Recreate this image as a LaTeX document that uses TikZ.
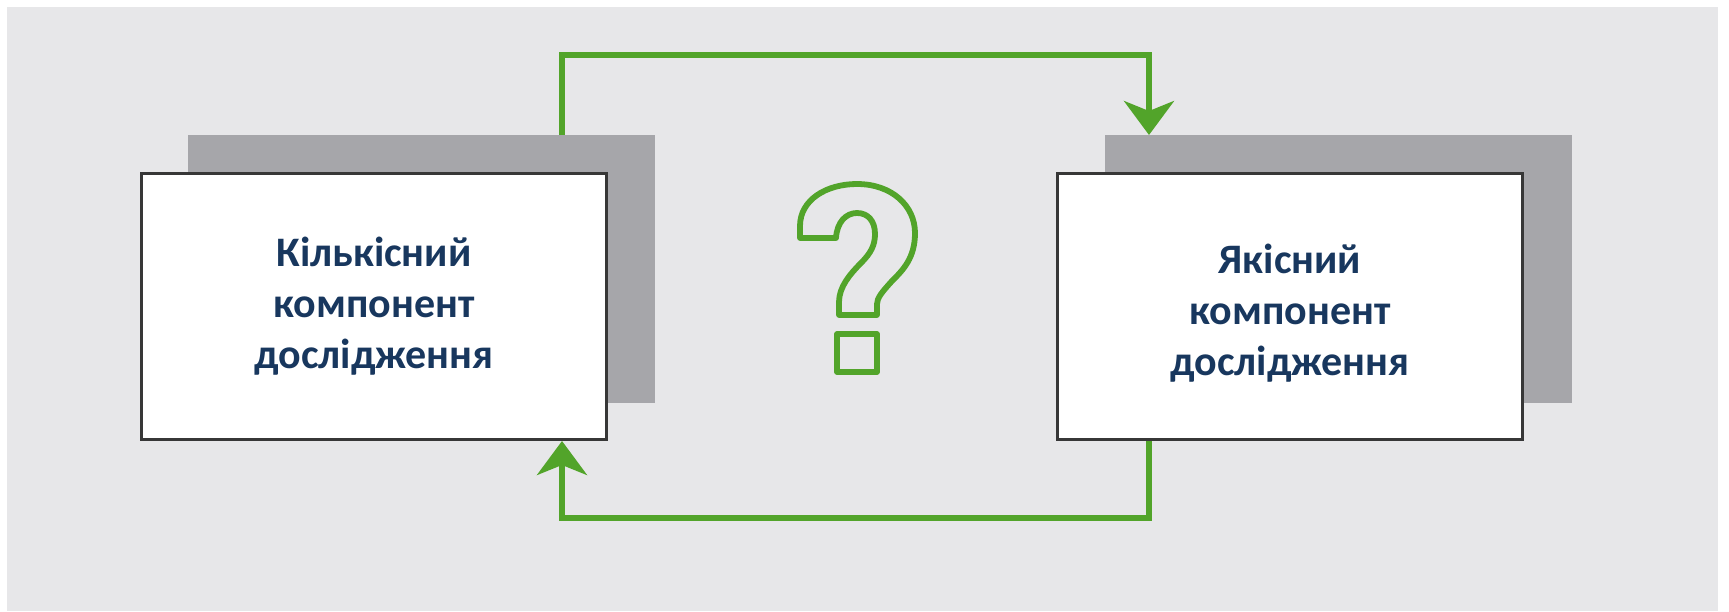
\documentclass[tikz,border=0pt]{standalone}
\usepackage{fontspec}
\setmainfont{Carlito}
\usetikzlibrary{arrows.meta}
\definecolor{bggray}{RGB}{231,231,233}
\definecolor{shadowgray}{RGB}{166,166,170}
\definecolor{boxborder}{RGB}{55,55,55}
\definecolor{arrowgreen}{RGB}{82,164,42}
\definecolor{textnavy}{RGB}{24,55,94}
\tikzset{
  shadowbox/.style={fill=shadowgray, draw=none, inner sep=0pt, outer sep=0pt,
    minimum width=233.5pt, minimum height=134pt},
  mainbox/.style={fill=white, draw=boxborder, line width=1.5pt, inner sep=0pt,
    minimum width=232.5pt, minimum height=133pt},
  boxtext/.style={align=center, text=textnavy, font=\bfseries\fontsize{21}{25.5}\selectfont, inner sep=0pt},
  flow/.style={draw=arrowgreen, line width=2.6pt,
    -{Stealth[length=17pt, width=25pt, inset=5pt]}},
  qmark/.style={draw=arrowgreen, line width=2.9pt, line join=round}
}
\begin{document}
\begin{tikzpicture}[x=0.5pt, y=-0.5pt]
\useasboundingbox (0,0) rectangle (1729,611);
\fill[white] (0,0) rectangle (1729,611);
\fill[bggray] (7,7) rectangle (1718,611);
% shadows
\node[shadowbox] (Ls) at (421.5,269) {};
\node[shadowbox] (Rs) at (1338,269) {};
% boxes
\node[mainbox] (L) at (374,306.5) {};
\node[mainbox] (R) at (1290,306.5) {};
\node[boxtext] (Lt) at (374,306) {Кількісний\\компонент\\дослідження};
\node[boxtext] (Rt) at (1290,313) {Якісний\\компонент\\дослідження};
% connector coordinates
\coordinate (tL) at (562,55);
\coordinate (tR) at (1149,55);
\coordinate (bL) at (562,518);
\coordinate (bR) at (1149,518);
\draw[flow] (Ls.north -| tL) -- (tL) -- (tR) -- (Rs.north -| tR);
\draw[flow] (R.south -| bR) -- (bR) -- (bL) -- (L.south -| bL);
% question mark
\draw[qmark] (800,238) -- (800,226)
  .. controls (800,200) and (826,184) .. (857,184)
  .. controls (892,184) and (915,206) .. (915,233)
  .. controls (915,258) and (903,270) .. (892,281)
  .. controls (882,292) and (877,298) .. (877,304)
  -- (877,315) -- (839,315) -- (839,302)
  .. controls (839,287) and (850,274) .. (861,263)
  .. controls (871,253) and (875,245) .. (875,234)
  .. controls (875,221) and (868,213) .. (857,213)
  .. controls (846,213) and (837,222) .. (836,238)
  -- cycle;
\draw[qmark] (837,334) rectangle (877,372);
\end{tikzpicture}
\end{document}
